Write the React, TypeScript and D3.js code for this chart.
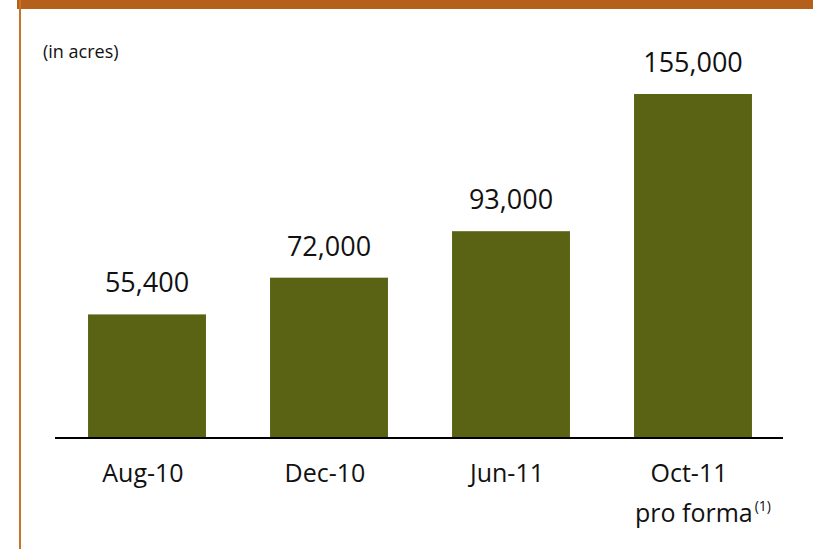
import React from 'react'
import * as d3 from 'd3'

const categories = ['Aug-10', 'Dec-10', 'Jun-11', 'Oct-11']
const subLabels = ['', '', '', 'pro forma']
const notes = ['', '', '', '(1)']
const acres = [55400, 72000, 93000, 155000]
const unitLabel = '(in acres)'

const W = 813
const H = 549
const font = '"Open Sans", sans-serif'

export default function App() {
    const x = d3.scaleBand().domain(categories).range([56, 784]).paddingInner(0.352).paddingOuter(0.176)
    const y = d3.scaleLinear().domain([0, 155000]).range([437, 94])
    const fmt = d3.format(',')

    return (
        <svg width={W} height={H} style={{ position: 'absolute', left: 0, top: 0, background: '#fff' }}>
            <rect x={17} y={0} width={W - 17} height={9} fill="#b5601a" />
            <rect x={19} y={0} width={2} height={H} fill="#c8732a" />
            <text x={43} y={58} fontFamily={font} fontSize={18} fill="#111">{unitLabel}</text>

            {categories.map((c, i) => {
                const bx = x(c) ?? 0
                const cx = bx + x.bandwidth() / 2
                return (
                    <g key={c}>
                        <rect x={bx} y={y(acres[i])} width={x.bandwidth()} height={y(0) - y(acres[i])} fill="#5a6314" />
                        <text x={cx} y={y(acres[i]) - 22} textAnchor="middle" fontFamily={font} fontSize={27} fill="#111">
                            {fmt(acres[i])}
                        </text>
                        <text x={cx - 4} y={482} textAnchor="middle" fontFamily={font} fontSize={25} fill="#111">{c}</text>
                        {subLabels[i] && (
                            <text x={cx + 10} y={522} textAnchor="middle" fontFamily={font} fontSize={25} fill="#111">
                                {subLabels[i]}
                                <tspan dx={2} dy={-11} fontSize={14}>{notes[i]}</tspan>
                            </text>
                        )}
                    </g>
                )
            })}

            <line x1={55} x2={783} y1={438} y2={438} stroke="#000" strokeWidth={2} />
        </svg>
    )
}
